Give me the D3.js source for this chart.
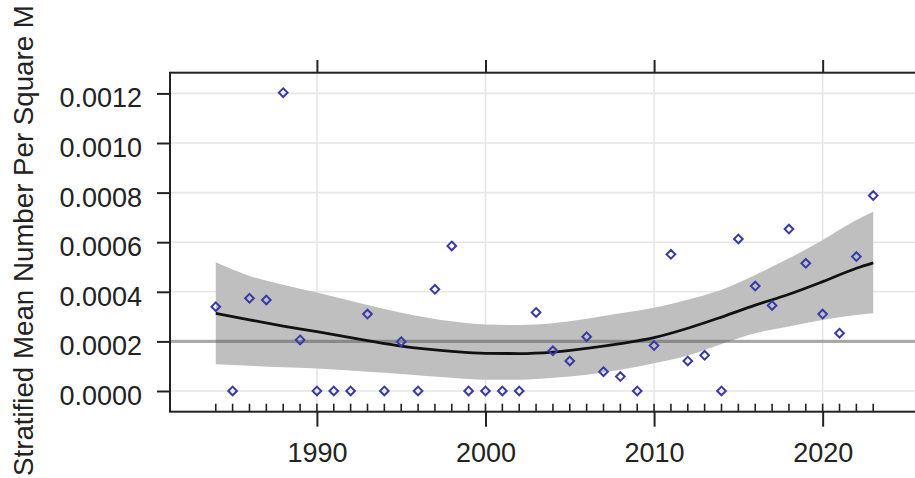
<!DOCTYPE html>
<html lang="en">
<head>
  <meta charset="UTF-8">
  <title>Stratified Mean Number Per Square M</title>
  <style>
    body { margin: 0; background: #fff; }
    svg { display: block; font-family: "Liberation Sans", Arial, sans-serif; }
  </style>
</head>
<body>
  <div class="layout"></div>
  <script src="https://d3js.org/d3.v7.min.js"></script>
  <script>
    const SVGWIDTH = 915;
    const SVGHEIGHT = 478;

    const years = [1984, 1985, 1986, 1987, 1988, 1989, 1990, 1991, 1992, 1993,
                   1994, 1995, 1996, 1997, 1998, 1999, 2000, 2001, 2002, 2003,
                   2004, 2005, 2006, 2007, 2008, 2009, 2010, 2011, 2012, 2013,
                   2014, 2015, 2016, 2017, 2018, 2019, 2020, 2021, 2022, 2023];
    const values = [0.000340, 0, 0.000374, 0.000367, 0.001203, 0.000206, 0, 0, 0, 0.000310,
                    0, 0.000199, 0, 0.000410, 0.000585, 0, 0, 0, 0, 0.000317,
                    0.000162, 0.000121, 0.000219, 0.000078, 0.000058, 0, 0.000183, 0.000551, 0.000121, 0.000144,
                    0, 0.000613, 0.000423, 0.000345, 0.000653, 0.000515, 0.000310, 0.000233, 0.000542, 0.000788];

    // fitted curve and its confidence band, read at a few years
    const fitYears = [1984, 1986, 1988, 1990, 1993, 1995, 1998, 2000, 2002, 2004,
                      2006, 2008, 2010, 2012, 2014, 2016, 2018, 2020, 2022, 2023];
    const fitValues = [0.000313, 0.000287, 0.000262, 0.000239, 0.000203, 0.000181, 0.000160, 0.000152, 0.000151, 0.000157,
                       0.000172, 0.000191, 0.000215, 0.000253, 0.000298, 0.000346, 0.000390, 0.000441, 0.000495, 0.000517];
    const upperValues = [0.000519, 0.000464, 0.000428, 0.000397, 0.000347, 0.000316, 0.000281, 0.000268, 0.000266, 0.000273,
                         0.000291, 0.000313, 0.000336, 0.000368, 0.000408, 0.000468, 0.000535, 0.000609, 0.000690, 0.000723];
    const lowerValues = [0.000108, 0.000102, 0.000096, 0.000091, 0.000078, 0.000069, 0.000053, 0.000045, 0.000045, 0.000053,
                         0.000066, 0.000086, 0.000112, 0.000143, 0.000190, 0.000233, 0.000260, 0.000286, 0.000306, 0.000313];

    const refValue = 0.0002;
    const yTicks = [0, 0.0002, 0.0004, 0.0006, 0.0008, 0.0010, 0.0012];
    const xTicks = [1990, 2000, 2010, 2020];
    const yTitle = 'Stratified Mean Number Per Square M';

    const plot = {left: 170, top: 72.7, right: 919, bottom: 411.7};

    const xScale = d3.scaleLinear()
      .domain([1981.285, 2025.715])
      .range([plot.left, plot.right]);
    const yScale = d3.scaleLinear()
      .domain([-0.0000835, 0.0012835])
      .range([plot.bottom, plot.top]);

    const svg = d3.select('.layout')
      .append('svg')
      .attr('width', SVGWIDTH)
      .attr('height', SVGHEIGHT);

    // grid
    const grid = svg.append('g').attr('class', 'grid')
      .attr('stroke', '#e6e6e6')
      .attr('stroke-width', 1.6);
    grid.selectAll('line.h')
      .data(yTicks)
      .enter()
      .append('line')
      .attr('class', 'h')
      .attr('x1', plot.left).attr('x2', plot.right)
      .attr('y1', d => yScale(d)).attr('y2', d => yScale(d));
    grid.selectAll('line.v')
      .data(xTicks)
      .enter()
      .append('line')
      .attr('class', 'v')
      .attr('y1', plot.top).attr('y2', plot.bottom)
      .attr('x1', d => xScale(d)).attr('x2', d => xScale(d));

    // confidence band
    const fitData = fitYears.map((yr, i) => ({year: yr, fit: fitValues[i], lo: lowerValues[i], hi: upperValues[i]}));
    const band = d3.area()
      .x(d => xScale(d.year))
      .y0(d => yScale(d.lo))
      .y1(d => yScale(d.hi))
      .curve(d3.curveMonotoneX);
    svg.append('path')
      .datum(fitData)
      .attr('d', band)
      .attr('fill', '#bfbfbf');

    // reference line
    svg.append('line')
      .attr('x1', plot.left).attr('x2', plot.right)
      .attr('y1', yScale(refValue)).attr('y2', yScale(refValue))
      .attr('stroke', 'rgba(50,50,50,0.37)')
      .attr('stroke-width', 3.4);

    // fitted line
    const fitLine = d3.line()
      .x(d => xScale(d.year))
      .y(d => yScale(d.fit))
      .curve(d3.curveMonotoneX);
    svg.append('path')
      .datum(fitData)
      .attr('d', fitLine)
      .attr('fill', 'none')
      .attr('stroke', '#111')
      .attr('stroke-width', 2.8);

    // points (open diamonds)
    const dataset = years.map((yr, i) => ({year: yr, value: values[i]}));
    const diamond = d3.symbol().type(d3.symbolDiamond2).size(48);
    svg.append('g').attr('class', 'points')
      .selectAll('path')
      .data(dataset)
      .enter()
      .append('path')
      .attr('d', diamond)
      .attr('transform', d => `translate(${xScale(d.year)},${yScale(d.value)})`)
      .attr('fill', 'none')
      .attr('stroke', '#3a3aa6')
      .attr('stroke-width', 2);

    // rug along the bottom
    svg.append('g').attr('class', 'rug')
      .selectAll('line')
      .data(dataset)
      .enter()
      .append('line')
      .attr('x1', d => xScale(d.year)).attr('x2', d => xScale(d.year))
      .attr('y1', plot.bottom - 8).attr('y2', plot.bottom)
      .attr('stroke', '#222')
      .attr('stroke-width', 1.6);

    // frame
    svg.append('rect')
      .attr('x', plot.left).attr('y', plot.top)
      .attr('width', plot.right - plot.left)
      .attr('height', plot.bottom - plot.top)
      .attr('fill', 'none')
      .attr('stroke', '#222')
      .attr('stroke-width', 2);

    // axes
    const yAxis = d3.axisLeft(yScale)
      .tickValues(yTicks)
      .tickSize(13)
      .tickPadding(15)
      .tickFormat(d3.format('.4f'));
    const xAxis = d3.axisBottom(xScale)
      .tickValues(xTicks)
      .tickSize(15)
      .tickPadding(16)
      .tickFormat(d3.format('d'));
    const xAxisTop = d3.axisTop(xScale)
      .tickValues(xTicks)
      .tickSize(12.7)
      .tickFormat('');

    const leftAxisCont = svg.append('g').attr('transform', `translate(${plot.left},0)`).call(yAxis);
    const bottomAxisCont = svg.append('g').attr('transform', `translate(0,${plot.bottom})`).call(xAxis);
    const topAxisCont = svg.append('g').attr('transform', `translate(0,${plot.top})`).call(xAxisTop);

    [leftAxisCont, bottomAxisCont, topAxisCont].forEach(g => {
      g.select('.domain').remove();
      g.selectAll('.tick line').attr('stroke', '#222').attr('stroke-width', 2);
      g.selectAll('.tick text')
        .attr('fill', '#222')
        .attr('font-family', '"Liberation Sans", Arial, sans-serif')
        .attr('font-size', '27px');
    });
    leftAxisCont.selectAll('.tick text').attr('dy', '0.5em');

    // y axis title
    svg.append('text')
      .attr('transform', 'translate(33,476) rotate(-90)')
      .attr('text-anchor', 'start')
      .attr('font-size', '27.7px')
      .attr('fill', '#222')
      .text(yTitle);
  </script>
</body>
</html>
